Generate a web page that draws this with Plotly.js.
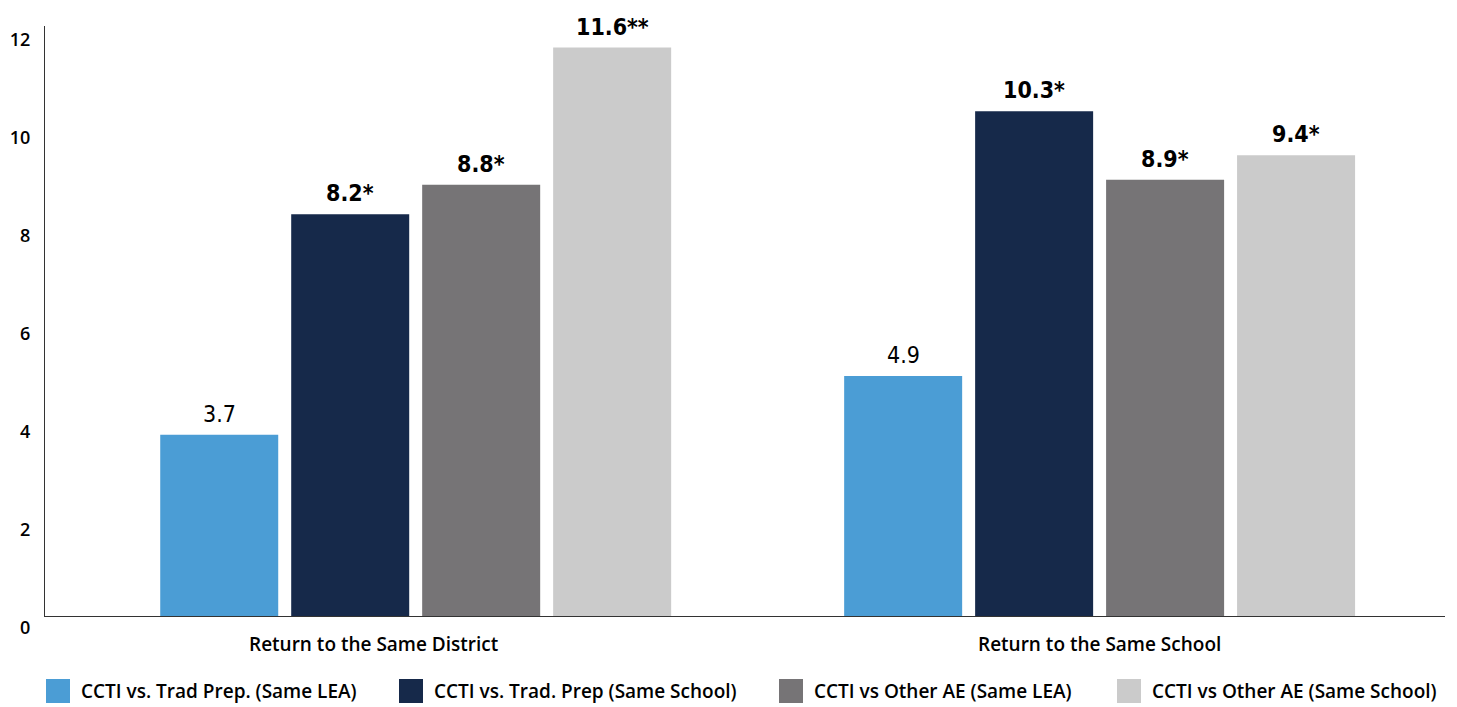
<!DOCTYPE html>
<html>
<head>
<meta charset="utf-8">
<script src="https://cdn.plot.ly/plotly-3.0.1.min.js"></script>
<style>
  html, body { margin: 0; padding: 0; background: #ffffff; }
  #chart { width: 1457px; height: 707px; }
</style>
</head>
<body>
<div id="chart"></div>
<script>
// ---- Data ----
const categories = ['Return to the Same District', 'Return to the Same School'];
const seriesNames = [
  'CCTI vs. Trad Prep. (Same LEA)',
  'CCTI vs. Trad. Prep (Same School)',
  'CCTI vs Other AE (Same LEA)',
  'CCTI vs Other AE (Same School)'
];
const tradPrepSameLEA = [3.7, 4.9];
const tradPrepSameSchool = [8.2, 10.3];
const otherAESameLEA = [8.8, 8.9];
const otherAESameSchool = [11.6, 9.4];
const labelsTradPrepSameLEA = ['3.7', '4.9'];
const labelsTradPrepSameSchool = ['8.2*', '10.3*'];
const labelsOtherAESameLEA = ['8.8*', '8.9*'];
const labelsOtherAESameSchool = ['11.6**', '9.4*'];
const yTickVals = [0, 2, 4, 6, 8, 10, 12];

// ---- Styles ----
const colors = ['#4B9DD5', '#16294A', '#767476', '#CBCBCB'];
const values = [tradPrepSameLEA, tradPrepSameSchool, otherAESameLEA, otherAESameSchool];
const labels = [labelsTradPrepSameLEA, labelsTradPrepSameSchool, labelsOtherAESameLEA, labelsOtherAESameSchool];
const xIdx = categories.map((c, i) => i);

const bargap = 0.234, bargroupgap = 0.099;
const slot = (1 - bargap) / values.length;

const labelFont = '"DejaVu Sans Condensed", "Liberation Sans Narrow", sans-serif';
const mainFont = '"Open Sans", "Liberation Sans", Arial, sans-serif';

const traces = values.map((v, k) => ({
  type: 'bar',
  name: seriesNames[k],
  x: xIdx,
  y: v,
  marker: { color: colors[k], line: { width: 0 } },
  showlegend: false,
  hoverinfo: 'name+y'
}));

const annotations = [];
values.forEach((v, k) => {
  v.forEach((val, i) => {
    const lab = labels[k][i];
    const bold = lab.indexOf('*') >= 0;
    annotations.push({
      xref: 'x', yref: 'y',
      x: i + (k - (values.length - 1) / 2) * slot,
      y: val,
      text: bold ? '<b>' + lab + '</b>' : lab,
      showarrow: false,
      xanchor: 'center', yanchor: 'bottom',
      yshift: 6,
      font: { family: labelFont, size: 23, color: '#000000' }
    });
  });
});
const catShift = [-42, 0];
categories.forEach((c, i) => {
  annotations.push({
    xref: 'x', yref: 'paper',
    x: i, y: 0, xshift: catShift[i], yshift: -28,
    text: c,
    showarrow: false, xanchor: 'center', yanchor: 'middle',
    font: { family: mainFont, size: 19, color: '#000000', weight: 600 }
  });
});

// Manual legend (large swatches)
const legendX = [46, 399, 779, 1117];
const shapes = [];
seriesNames.forEach((n, k) => {
  shapes.push({
    type: 'rect', xref: 'paper', yref: 'paper',
    x0: (legendX[k] - 45) / 1400, x1: (legendX[k] + 24 - 45) / 1400,
    y0: (616 - 703) / 590, y1: (616 - 679) / 590,
    fillcolor: colors[k], line: { width: 0 }
  });
  annotations.push({
    xref: 'paper', yref: 'paper',
    x: (legendX[k] + 33 - 45) / 1400, y: (616 - 691) / 590,
    text: n, showarrow: false, xanchor: 'left', yanchor: 'middle',
    font: { family: mainFont, size: 19, color: '#000000', weight: 600 }
  });
});

const layout = {
  width: 1457, height: 707,
  margin: { l: 45, r: 12, t: 26, b: 91 },
  paper_bgcolor: '#ffffff', plot_bgcolor: '#ffffff',
  barmode: 'group', bargap: bargap, bargroupgap: bargroupgap,
  showlegend: false,
  xaxis: {
    range: [-0.542, 1.505],
    showticklabels: false, ticks: '', showgrid: false, zeroline: false,
    showline: true, linecolor: '#333333', linewidth: 1
  },
  yaxis: {
    range: [0, 12.04],
    tickvals: yTickVals, ticktext: yTickVals.map(String),
    ticks: '', showgrid: false, zeroline: false,
    showline: true, linecolor: '#333333', linewidth: 1,
    ticklabelshift: 12, ticklabelstandoff: 10,
    tickfont: { family: mainFont, size: 18, color: '#000000', weight: 600 }
  },
  shapes: shapes,
  annotations: annotations
};

Plotly.newPlot('chart', traces, layout, { displayModeBar: false, staticPlot: true });
</script>
</body>
</html>
